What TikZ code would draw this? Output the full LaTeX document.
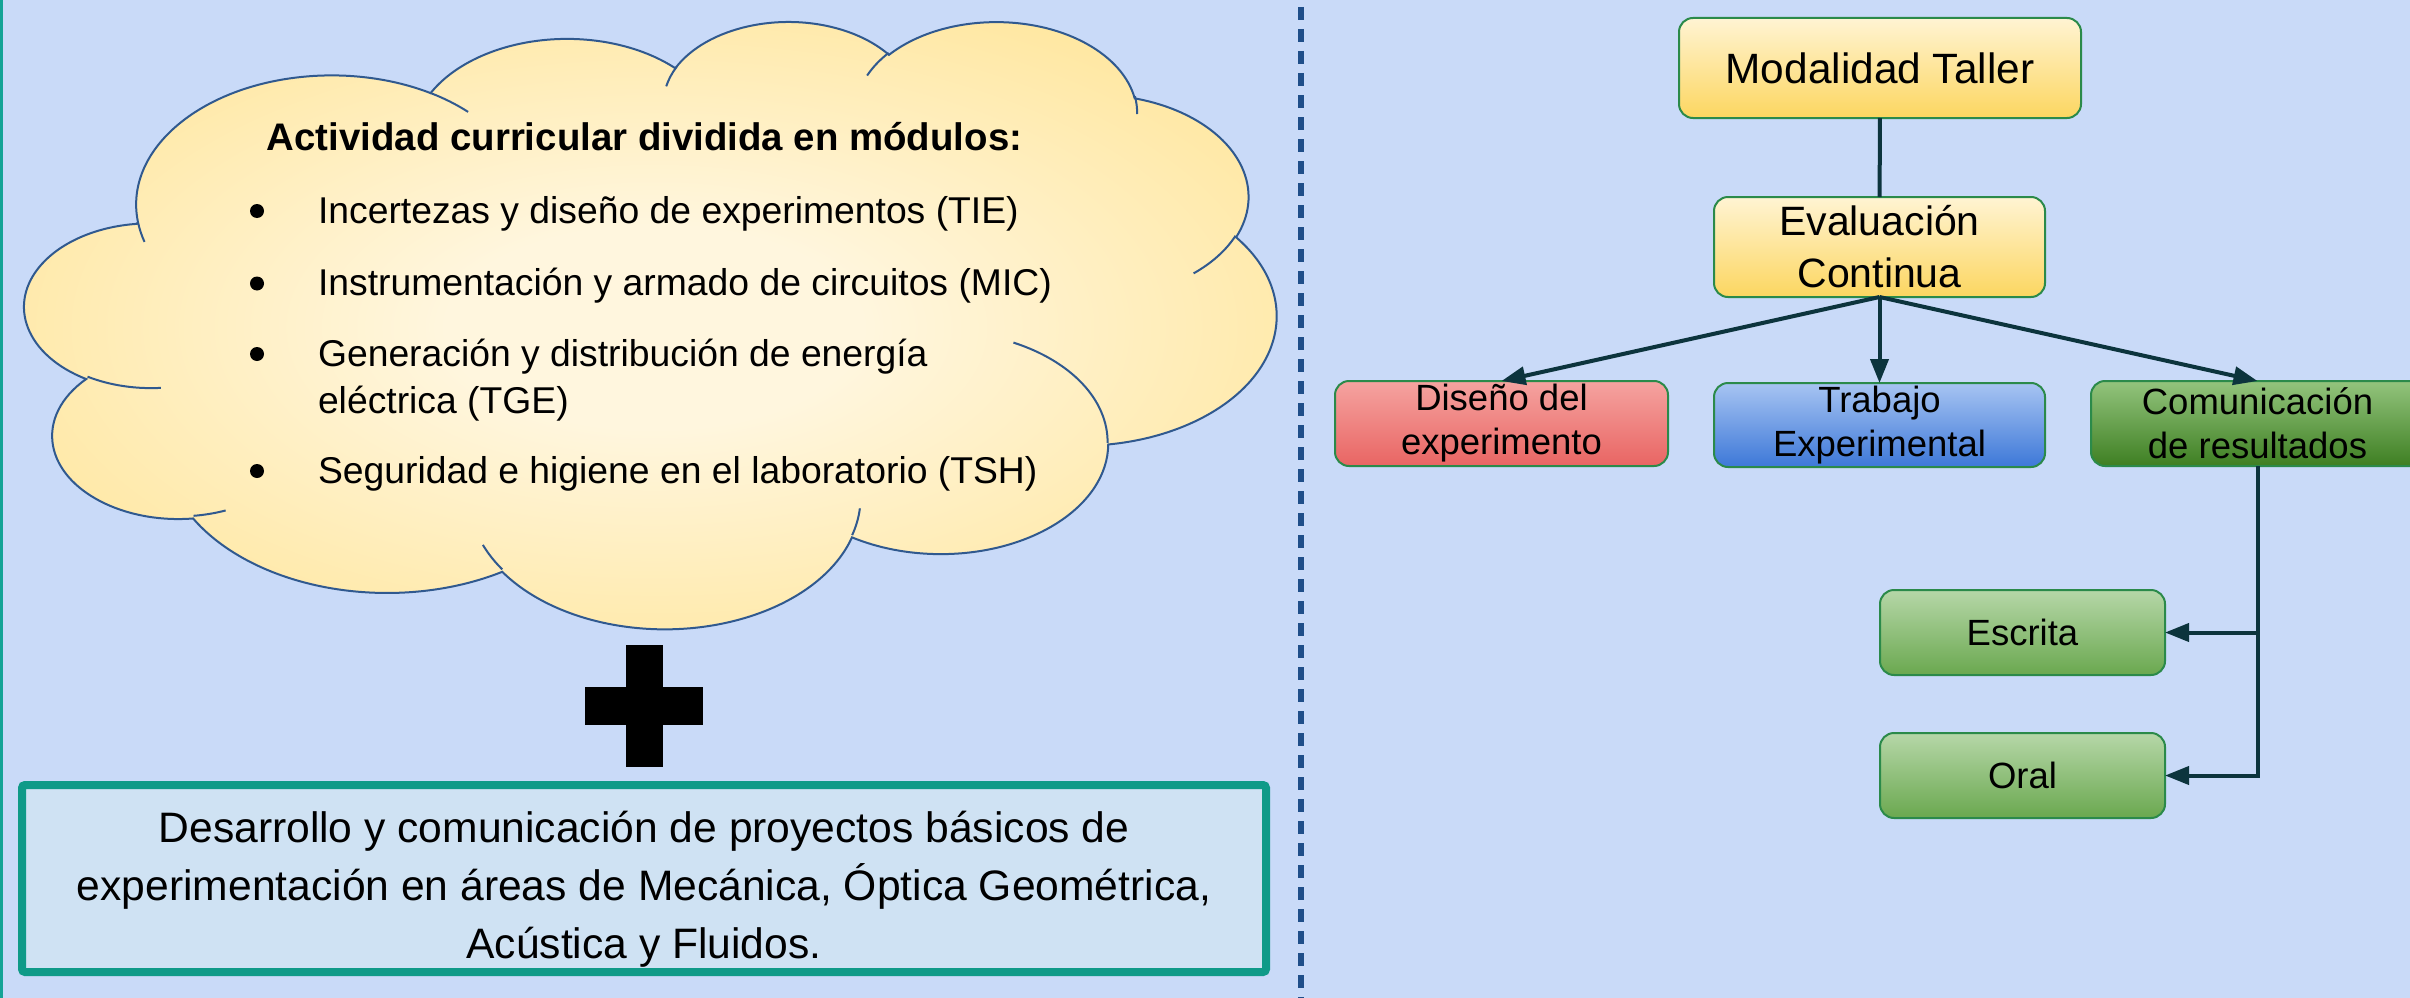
\documentclass[tikz,border=0pt]{standalone}
\usepackage{fontspec}
\setmainfont{Liberation Sans}
\usetikzlibrary{arrows.meta}

\definecolor{bgc}{HTML}{C9DAF8}
\definecolor{leftc}{HTML}{14A396}
\definecolor{sepc}{HTML}{1F4E89}
\definecolor{cloudin}{HTML}{FFF6DE}
\definecolor{cloudout}{HTML}{FFD966}
\definecolor{cloudln}{HTML}{30598F}
\definecolor{devfill}{HTML}{CFE2F3}
\definecolor{devline}{HTML}{0F9A88}
\definecolor{connc}{HTML}{0C343D}
\definecolor{boxln}{HTML}{2B8A4A}
\definecolor{yelA}{HTML}{FFF4D3}
\definecolor{yelB}{HTML}{FCD660}
\definecolor{redA}{HTML}{F5A3A0}
\definecolor{redB}{HTML}{E96563}
\definecolor{bluA}{HTML}{A7C4F2}
\definecolor{bluB}{HTML}{3D78D8}
\definecolor{grnA}{HTML}{93C47D}
\definecolor{grnB}{HTML}{3E7F22}
\definecolor{lgrA}{HTML}{B6D7A8}
\definecolor{lgrB}{HTML}{6AA84F}

\pgfdeclareradialshading{cloudshade}{\pgfpoint{0bp}{0bp}}{color(0bp)=(cloudin); color(8bp)=(cloudin); color(48bp)=(cloudout); color(80bp)=(cloudout)}

% visual (OOXML) angle -> parametric angle of an ellipse with radii #2, #3
\pgfmathdeclarefunction{ooang}{3}{%
  \begingroup
    \pgfmathparse{atan2((#2)*sin(#1),(#3)*cos(#1))-(#1)}%
    \pgfmathparse{(#1)+\pgfmathresult-360*round(\pgfmathresult/360)}%
    \pgfmathsmuggle\pgfmathresult
  \endgroup
}

\tikzset{
  every node/.style={inner sep=0pt, outer sep=0pt},
  flowbox/.style={draw=boxln, line width=2pt, rounded corners=14pt, align=center,
    font=\fontsize{36.5}{44}\selectfont},
  ybox/.style={flowbox, top color=yelA, bottom color=yelB},
  rbox/.style={flowbox, top color=redA, bottom color=redB},
  bbox/.style={flowbox, top color=bluA, bottom color=bluB},
  gbox/.style={flowbox, top color=grnA, bottom color=grnB},
  lgbox/.style={flowbox, top color=lgrA, bottom color=lgrB},
  conn/.style={draw=connc, line width=4pt},
  arr/.style={conn, -{Triangle[length=24pt, width=18pt]}},
  cloudbody/.style={draw=cloudln, line width=2pt, shading=cloudshade},
  cloudinner/.style={draw=cloudln, line width=2pt},
  cloudtitle/.style={anchor=base, font=\bfseries\fontsize{38.4}{46}\selectfont},
  clouditem/.style={anchor=base west, font=\fontsize{37.3}{47}\selectfont},
  bulletdot/.style={fill=black},
  devbox/.style={draw=devline, fill=devfill, line width=8pt, rounded corners=3pt,
    minimum width=1244pt, minimum height=187pt, align=center,
    font=\fontsize{42.6}{58}\selectfont},
  sepline/.style={draw=sepc, line width=6.5pt, dash pattern=on 13pt off 9pt},
}

\begin{document}
\begin{tikzpicture}[x=1pt, y=-1pt]
\useasboundingbox (0,0) rectangle (2410,998);
\fill[bgc] (0,0) rectangle (2410,998);
\clip (0,0) rectangle (2410,998);
\fill[leftc] (0,0) rectangle (2.5,998);

% ---------- cloud ----------
\begin{scope}[shift={(25pt,-20pt)}, x=0.028958pt, y=-0.014051pt]
\path[cloudbody] (3900,14370)
 arc[x radius=6753, y radius=9190, start angle={ooang(-190.48748,6753,9190)}, end angle={ooang(-66.70695,6753,9190)}]
 arc[x radius=5333, y radius=7267, start angle={ooang(-144.10238,5333,7267)}, end angle={ooang(-54.15715,5333,7267)}]
 arc[x radius=4365, y radius=5945, start angle={ooang(-145.80792,4365,5945)}, end angle={ooang(-46.0849,4365,5945)}]
 arc[x radius=4857, y radius=6595, start angle={ooang(-130.98607,4857,6595)}, end angle={ooang(-13.74434,4857,6595)}]
 arc[x radius=5333, y radius=7273, start angle={ooang(-78.70888,5333,7273)}, end angle={ooang(30.31804,5333,7273)}]
 arc[x radius=6775, y radius=9220, start angle={ooang(-46.26725,6775,9220)}, end angle={ooang(84.00175,6775,9220)}]
 arc[x radius=5785, y radius=7867, start angle={ooang(0.62502,5785,7867)}, end angle={ooang(114.65835,5785,7867)}]
 arc[x radius=6752, y radius=9215, start angle={ooang(22.4516,6752,9215)}, end angle={ooang(137.62415,6752,9215)}]
 arc[x radius=7720, y radius=10543, start angle={ooang(66.24263,7720,10543)}, end angle={ooang(141.95365,7720,10543)}]
 arc[x radius=4360, y radius=5918, start angle={ooang(-274.94208,4360,5918)}, end angle={ooang(-128.20651,4360,5918)}]
 arc[x radius=4345, y radius=5945, start angle={ooang(-246.8285,4345,5945)}, end angle={ooang(-94.30965,4345,5945)}]
 -- cycle;
\path[cloudinner]
 (4693,26177) arc[x radius=4345, y radius=5945, start angle={ooang(86.742,4345,5945)}, end angle={ooang(113.1715,4345,5945)}]
 (6928,34899) arc[x radius=4360, y radius=5918, start angle={ooang(73.61047,4360,5918)}, end angle={ooang(85.05794,4360,5918)}]
 (16478,39090) arc[x radius=6752, y radius=9215, start angle={ooang(137.62415,6752,9215)}, end angle={ooang(151.70525,6752,9215)}]
 (28827,34751) arc[x radius=6752, y radius=9215, start angle={ooang(6.45327,6752,9215)}, end angle={ooang(22.45162,6752,9215)}]
 (34129,22954) arc[x radius=5785, y radius=7867, start angle={ooang(-70.29235,5785,7867)}, end angle={ooang(0.62502,5785,7867)}]
 (41798,15354) arc[x radius=5333, y radius=7273, start angle={ooang(30.31803,5333,7273)}, end angle={ooang(58.06953,5333,7273)}]
 (38324,5426) arc[x radius=4857, y radius=6595, start angle={ooang(-13.74433,4857,6595)}, end angle={ooang(1.11457,4857,6595)}]
 (29078,3952) arc[x radius=4857, y radius=6595, start angle={ooang(-149.18145,4857,6595)}, end angle={ooang(-130.98608,4857,6595)}]
 (22141,4720) arc[x radius=4365, y radius=5945, start angle={ooang(-163.49427,4365,5945)}, end angle={ooang(-145.80792,4365,5945)}]
 (14000,5192) arc[x radius=6753, y radius=9190, start angle={ooang(-66.70695,6753,9190)}, end angle={ooang(-54.3876,6753,9190)}]
 (4127,15789) arc[x radius=6753, y radius=9190, start angle={ooang(157.65435,6753,9190)}, end angle={ooang(169.51252,6753,9190)}];
\end{scope}

% cloud text
\node[cloudtitle] (title) at (644.5,150.5) {Actividad curricular dividida en módulos:};
\fill[bulletdot] (257,211) circle[radius=7pt];
\fill[bulletdot] (257,283.5) circle[radius=7pt];
\fill[bulletdot] (257,354) circle[radius=7pt];
\fill[bulletdot] (257,471) circle[radius=7pt];
\node[clouditem] (tie) at (318,223) {Incertezas y diseño de experimentos (TIE)};
\node[clouditem] (mic) at (318,295.5) {Instrumentación y armado de circuitos (MIC)};
\node[clouditem] (tge) at (318,366) {Generación y distribución de energía};
\node[clouditem] (tge2) at (318,413) {eléctrica (TGE)};
\node[clouditem] (tsh) at (318,483) {Seguridad e higiene en el laboratorio (TSH)};

% plus sign
\fill[black] (626,645) rectangle (663,767);
\fill[black] (585,687) rectangle (703,725);

% bottom box
\node[devbox] (dev) at (644,878.5) {\rule{0pt}{53pt}Desarrollo y comunicación de proyectos básicos de\\experimentación en áreas de Mecánica, Óptica Geométrica,\\Acústica y Fluidos.};

% separator
\draw[sepline] (1301,7) -- (1301,998);

% ---------- right diagram ----------
\node[ybox, minimum width=402pt, minimum height=100pt, font=\fontsize{42.4}{52}\selectfont] (mt) at (1880,68) {Modalidad Taller};
\node[ybox, minimum width=331pt, minimum height=100pt, font=\fontsize{41}{52}\selectfont] (ec) at (1879.5,247) {Evaluación\\Continua};
\node[rbox, minimum width=333pt, minimum height=85pt] (dis) at (1501.5,423.5) {Diseño del\\experimento};
\node[bbox, minimum width=331pt, minimum height=84pt] (trab) at (1879.5,425) {Trabajo\\Experimental};
\node[gbox, minimum width=333pt, minimum height=85pt] (com) at (2257.5,423.5) {Comunicación\\de resultados};
\node[lgbox, minimum width=285pt, minimum height=85pt] (esc) at (2022.5,632.5) {Escrita};
\node[lgbox, minimum width=285pt, minimum height=85pt] (oral) at (2022.5,775.5) {Oral};

\draw[conn] (mt) -- (ec);
\draw[arr] (ec.south) -- (dis.north);
\draw[arr] (ec.south) -- (trab.north);
\draw[arr] (ec.south) -- (com.north);
\draw[arr] (com.south) |- (oral.east);
\draw[arr] (com.south |- esc.east) -- (esc.east);
\end{tikzpicture}
\end{document}
